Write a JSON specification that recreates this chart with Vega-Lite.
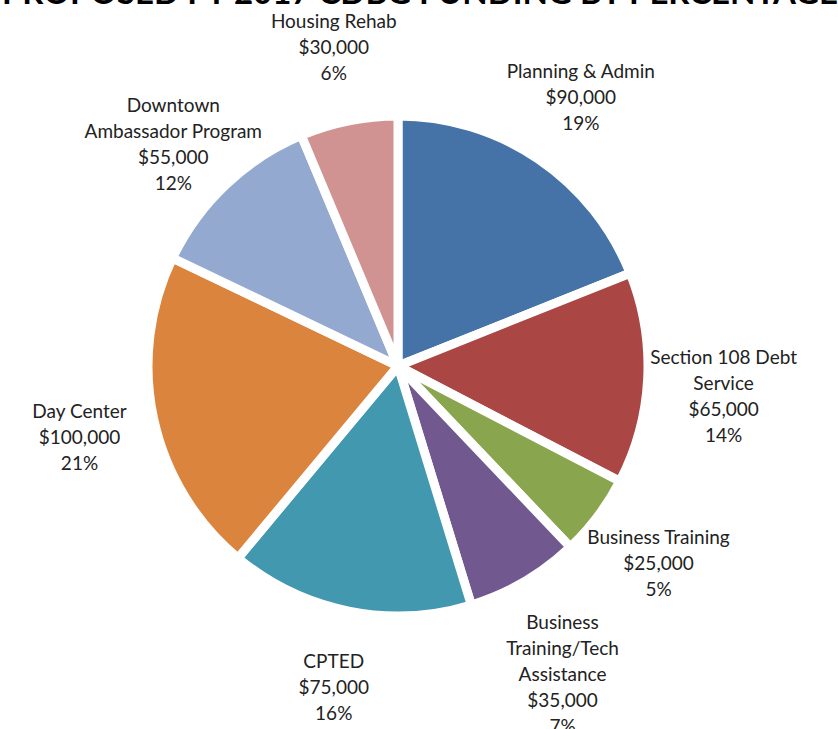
{
  "$schema": "https://vega.github.io/schema/vega-lite/v6.json",
  "width": 796,
  "height": 704,
  "autosize": {"type": "none"},
  "padding": {"left": 0, "top": 14, "right": 42, "bottom": 11},
  "background": "white",
  "title": {
    "text": "PROPOSED FY 2017 CDBG FUNDING BY PERCENTAGE",
    "font": "Lato",
    "fontSize": 33,
    "fontWeight": "bold",
    "color": "#000000",
    "anchor": "middle",
    "offset": 2,
    "dx": 22
  },
  "data": {
    "values": [
      {"order": 1, "category": "Planning & Admin", "amount": 90000, "label": "Planning & Admin\n$90,000\n19%"},
      {"order": 2, "category": "Section 108 Debt Service", "amount": 65000, "label": "Section 108 Debt\nService\n$65,000\n14%"},
      {"order": 3, "category": "Business Training", "amount": 25000, "label": "Business Training\n$25,000\n5%"},
      {"order": 4, "category": "Business Training/Tech Assistance", "amount": 35000, "label": "Business\nTraining/Tech\nAssistance\n$35,000\n7%"},
      {"order": 5, "category": "CPTED", "amount": 75000, "label": "CPTED\n$75,000\n16%"},
      {"order": 6, "category": "Day Center", "amount": 100000, "label": "Day Center\n$100,000\n21%"},
      {"order": 7, "category": "Downtown Ambassador Program", "amount": 55000, "label": "Downtown\nAmbassador Program\n$55,000\n12%"},
      {"order": 8, "category": "Housing Rehab", "amount": 30000, "label": "Housing Rehab\n$30,000\n6%"}
    ]
  },
  "encoding": {
    "theta": {"field": "amount", "type": "quantitative", "stack": true},
    "order": {"field": "order", "type": "quantitative", "sort": "ascending"}
  },
  "layer": [
    {
      "mark": {"type": "arc", "outerRadius": 250, "stroke": "white", "strokeWidth": 9, "strokeJoin": "miter"},
      "encoding": {
        "color": {
          "field": "category",
          "type": "nominal",
          "legend": null,
          "sort": {"field": "order"},
          "scale": {
            "domain": ["Planning & Admin", "Section 108 Debt Service", "Business Training", "Business Training/Tech Assistance", "CPTED", "Day Center", "Downtown Ambassador Program", "Housing Rehab"],
            "range": ["#4572A7", "#AA4643", "#89A54E", "#71588F", "#4198AF", "#DB843D", "#93A9CF", "#D19392"]
          }
        }
      }
    },
    {
      "mark": {"type": "text", "radius": 326, "dy": -24, "font": "Lato", "fontSize": 19, "lineHeight": 26, "lineBreak": "\n", "align": "center", "baseline": "middle", "color": "#222222"},
      "encoding": {
        "text": {"field": "label", "type": "nominal"}
      }
    }
  ]
}
